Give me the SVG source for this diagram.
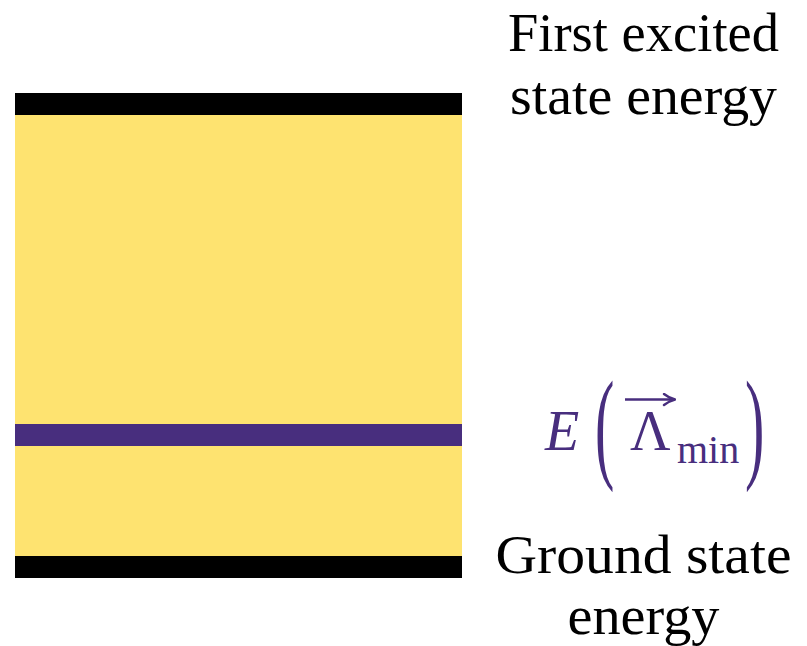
<svg xmlns="http://www.w3.org/2000/svg" width="807" height="646" viewBox="0 0 807 646">
  <defs>
    <style>
      .lbl { font-family: "Liberation Serif", "DejaVu Serif", serif; font-size: 55px; fill: #000; text-anchor: middle; }
      .math { font-family: "Liberation Serif", "DejaVu Serif", serif; fill: #482e7e; }
    </style>
    <marker id="vec" viewBox="0 0 14 14" refX="13" refY="7" markerWidth="14" markerHeight="14" markerUnits="userSpaceOnUse" orient="auto">
      <path d="M2,1.5 Q7,5.5 13,7 Q7,8.5 2,12.5" fill="none" stroke="#482e7e" stroke-width="2.4" stroke-linecap="round" stroke-linejoin="round"/>
    </marker>
  </defs>
  <rect width="807" height="646" fill="#fff"/>
  <g id="band">
    <rect x="15" y="115" width="447" height="441" fill="#fee370"/>
  </g>
  <g id="excited-level">
    <rect x="15" y="93" width="447" height="22" fill="#000"/>
  </g>
  <g id="min-level">
    <rect x="15" y="424" width="447" height="22" fill="#482e7e"/>
  </g>
  <g id="ground-level">
    <rect x="15" y="556" width="447" height="22" fill="#000"/>
  </g>
  <g id="label-excited">
    <text class="lbl" x="643.5" y="51" textLength="271" lengthAdjust="spacingAndGlyphs">First excited</text>
    <text class="lbl" x="643.5" y="114" textLength="267" lengthAdjust="spacingAndGlyphs">state energy</text>
  </g>
  <g id="label-ground">
    <text class="lbl" x="643.5" y="573" textLength="296" lengthAdjust="spacingAndGlyphs">Ground state</text>
    <text class="lbl" x="643.5" y="634" textLength="152" lengthAdjust="spacingAndGlyphs">energy</text>
  </g>
  <g id="label-min">
    <text class="math" x="545" y="450" font-size="56" font-style="italic">E</text>
    <text class="math" transform="translate(595,466) scale(1,2.1)" font-size="58">(</text>
    <text class="math" x="630" y="450" font-size="56">Λ</text>
    <text class="math" x="677" y="463" font-size="40">min</text>
    <text class="math" transform="translate(745,466) scale(1,2.1)" font-size="58">)</text>
  </g>
  <g id="connectors">
    <line x1="625" y1="399.5" x2="675" y2="399.5" stroke="#482e7e" stroke-width="2.6" marker-end="url(#vec)"/>
  </g>
</svg>
